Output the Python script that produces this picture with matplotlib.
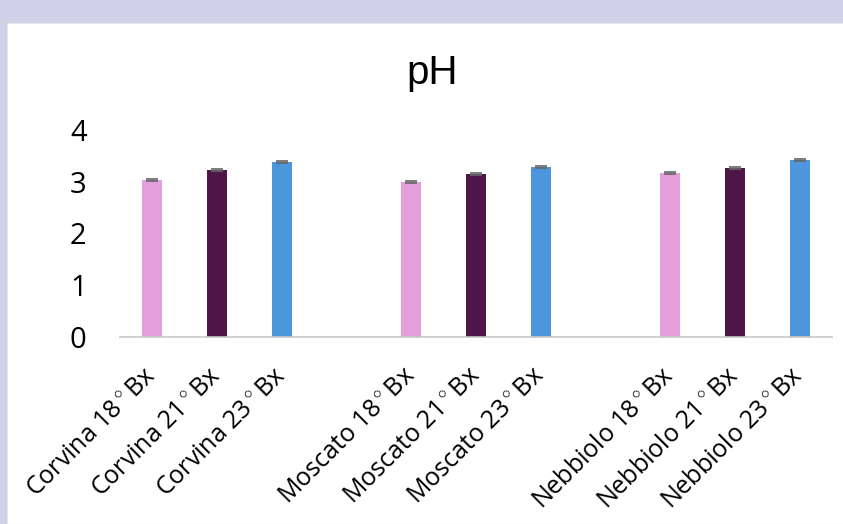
import matplotlib
matplotlib.use("Agg")
import matplotlib.pyplot as plt
from matplotlib.patches import Rectangle
from matplotlib.transforms import ScaledTranslation
import numpy as np

categories = ["Corvina 18$^\\circ$Bx", "Corvina 21$^\\circ$Bx", "Corvina 23$^\\circ$Bx",
              "Moscato 18$^\\circ$Bx", "Moscato 21$^\\circ$Bx", "Moscato 23$^\\circ$Bx",
              "Nebbiolo 18$^\\circ$Bx", "Nebbiolo 21$^\\circ$Bx", "Nebbiolo 23$^\\circ$Bx"]
values = [3.03, 3.22, 3.38, 2.99, 3.15, 3.29, 3.17, 3.26, 3.42]
errors = [0.02, 0.02, 0.02, 0.02, 0.02, 0.02, 0.02, 0.02, 0.02]
slots = [0, 1, 2, 4, 5, 6, 8, 9, 10]
colors = ["#e49edc", "#4e1548", "#4b96dc"] * 3
yticks = [0, 1, 2, 3, 4]

plt.rcParams["mathtext.fontset"] = "custom"
plt.rcParams["mathtext.rm"] = "Open Sans"

fig = plt.figure(figsize=(8.43, 5.24), dpi=100)
fig.patch.set_facecolor("#cdd2e8")
panel = Rectangle((7 / 843, 0), 1, (524 - 23) / 524, transform=fig.transFigure,
                  facecolor="white", edgecolor="#e6e6e6", linewidth=0.8, zorder=-5)
fig.add_artist(panel)

ax = fig.add_axes([120 / 843, (524 - 337) / 524, (832 - 120) / 843, (337 - 130) / 524])
ax.set_zorder(5)
ax.set_facecolor("none")
ax.bar(slots, values, width=0.31, color=colors, zorder=2,
       yerr=errors, error_kw=dict(ecolor="#666666", capsize=4.5, elinewidth=0.8, capthick=1.2))
ax.set_xlim(-0.5, 10.5)
ax.set_ylim(0, 4)
ax.set_yticks(yticks)
ax.set_yticklabels([str(t) for t in yticks], fontsize=21, fontfamily="Open Sans")
ax.set_xticks(slots)
ax.set_xticklabels(categories, rotation=45, ha="right", va="center", rotation_mode="anchor",
                   fontsize=18, fontfamily="Open Sans")
offset = ScaledTranslation(6 / 100, 0, fig.dpi_scale_trans)
for lbl in ax.get_xticklabels():
    lbl.set_transform(lbl.get_transform() + offset)
ax.tick_params(axis="x", length=0, pad=25)
ax.tick_params(axis="y", length=0, pad=24)
for s in ["top", "right", "left"]:
    ax.spines[s].set_visible(False)
ax.spines["bottom"].set_color("#c8c8c8")
ax.spines["bottom"].set_linewidth(1.2)

fig.text(432 / 843, 1 - 73 / 524, "pH", ha="center", va="center", fontsize=29,
         fontfamily="Liberation Sans", zorder=6)

fig.savefig("out.png", dpi=100, facecolor=fig.get_facecolor())
